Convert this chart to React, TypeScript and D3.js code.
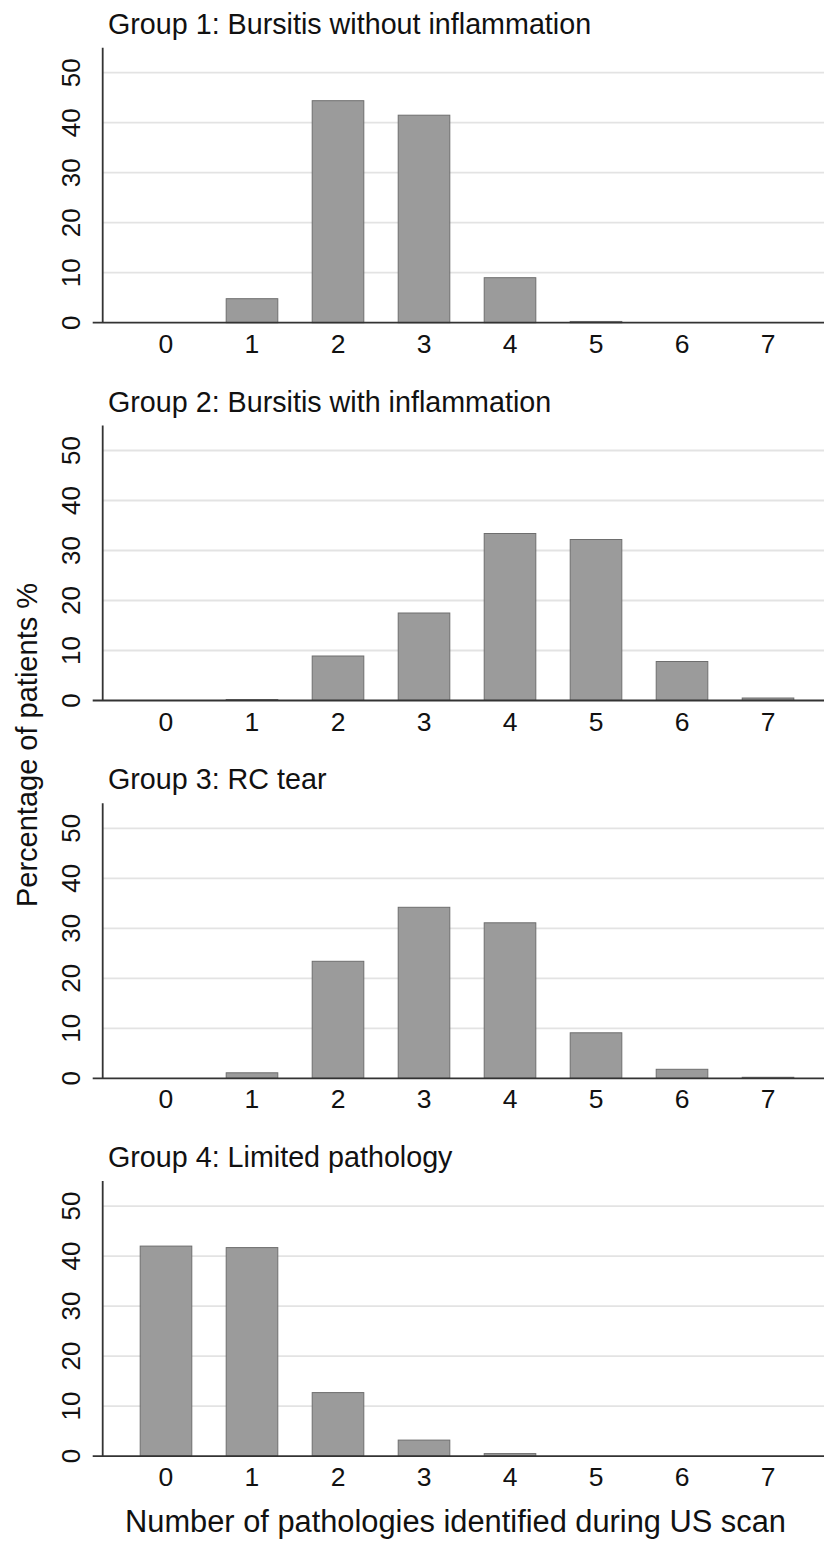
import React from "react";
import * as d3 from "d3";

const categories = [0, 1, 2, 3, 4, 5, 6, 7];
const titles = [
  "Group 1: Bursitis without inflammation",
  "Group 2: Bursitis with inflammation",
  "Group 3: RC tear",
  "Group 4: Limited pathology",
];
const group1 = [0, 4.8, 44.4, 41.5, 9.0, 0.25, 0, 0];
const group2 = [0, 0.2, 8.9, 17.5, 33.4, 32.2, 7.8, 0.5];
const group3 = [0, 1.1, 23.4, 34.2, 31.1, 9.1, 1.8, 0.2];
const group4 = [42.0, 41.7, 12.7, 3.2, 0.5, 0, 0, 0];
const seriesList = [group1, group2, group3, group4];
const yTicks = [0, 10, 20, 30, 40, 50];
const yTitle = "Percentage of patients %";
const xTitle = "Number of pathologies identified during US scan";

const W = 824;
const H = 1542;
const FONT = "'Liberation Sans', Arial, Helvetica, sans-serif";

export default function App() {
  const axisX = 102.7;
  const panelTop0 = 47.7;
  const panelStep = 377.8;
  const plotH = 275;

  const x = d3.scaleLinear().domain([-0.736, 7.651]).range([axisX, W]);
  const step = x(1) - x(0);
  const bw = step * 0.6;

  return (
    <svg
      width={W}
      height={H}
      style={{ position: "absolute", left: 0, top: 0, background: "#fff" }}
      fontFamily={FONT}
    >
      <rect x={0} y={0} width={W} height={H} fill="#fff" />
      {seriesList.map((vals, p) => {
        const top = panelTop0 + p * panelStep;
        const y = d3.scaleLinear().domain([0, 55]).range([top + plotH, top]);
        const y0 = y(0);
        return (
          <g key={p}>
            <text x={108} y={top - 14} fontSize={28.7} fill="#111">
              {titles[p]}
            </text>
            {yTicks.map((t) =>
              t === 0 ? null : (
                <line
                  key={"g" + t}
                  x1={axisX}
                  x2={W}
                  y1={y(t)}
                  y2={y(t)}
                  stroke="#e3e3e3"
                  strokeWidth={1.8}
                />
              )
            )}
            {yTicks.map((t) => (
              <text
                key={"yl" + t}
                transform={`translate(80,${y(t)}) rotate(-90)`}
                textAnchor="middle"
                fontSize={26}
                fill="#111"
              >
                {t}
              </text>
            ))}
            {categories.map((c, i) =>
              vals[i] > 0 ? (
                <rect
                  key={"b" + c}
                  x={x(c) - bw / 2}
                  y={y(vals[i])}
                  width={bw}
                  height={y0 - y(vals[i])}
                  fill="#9b9b9b"
                  stroke="#6e6e6e"
                  strokeWidth={1}
                />
              ) : null
            )}
            <line x1={axisX} x2={axisX} y1={top} y2={y0} stroke="#333" strokeWidth={1.8} />
            <line x1={92.7} x2={W} y1={y0} y2={y0} stroke="#333" strokeWidth={1.8} />
            {categories.map((c) => (
              <text
                key={"xl" + c}
                x={x(c)}
                y={y0 + 30}
                textAnchor="middle"
                fontSize={26.5}
                fill="#111"
              >
                {c}
              </text>
            ))}
          </g>
        );
      })}
      <text
        transform={`translate(37,745) rotate(-90)`}
        textAnchor="middle"
        fontSize={29}
        fill="#111"
      >
        {yTitle}
      </text>
      <text x={455.5} y={1532} textAnchor="middle" fontSize={30.8} fill="#111">
        {xTitle}
      </text>
    </svg>
  );
}
